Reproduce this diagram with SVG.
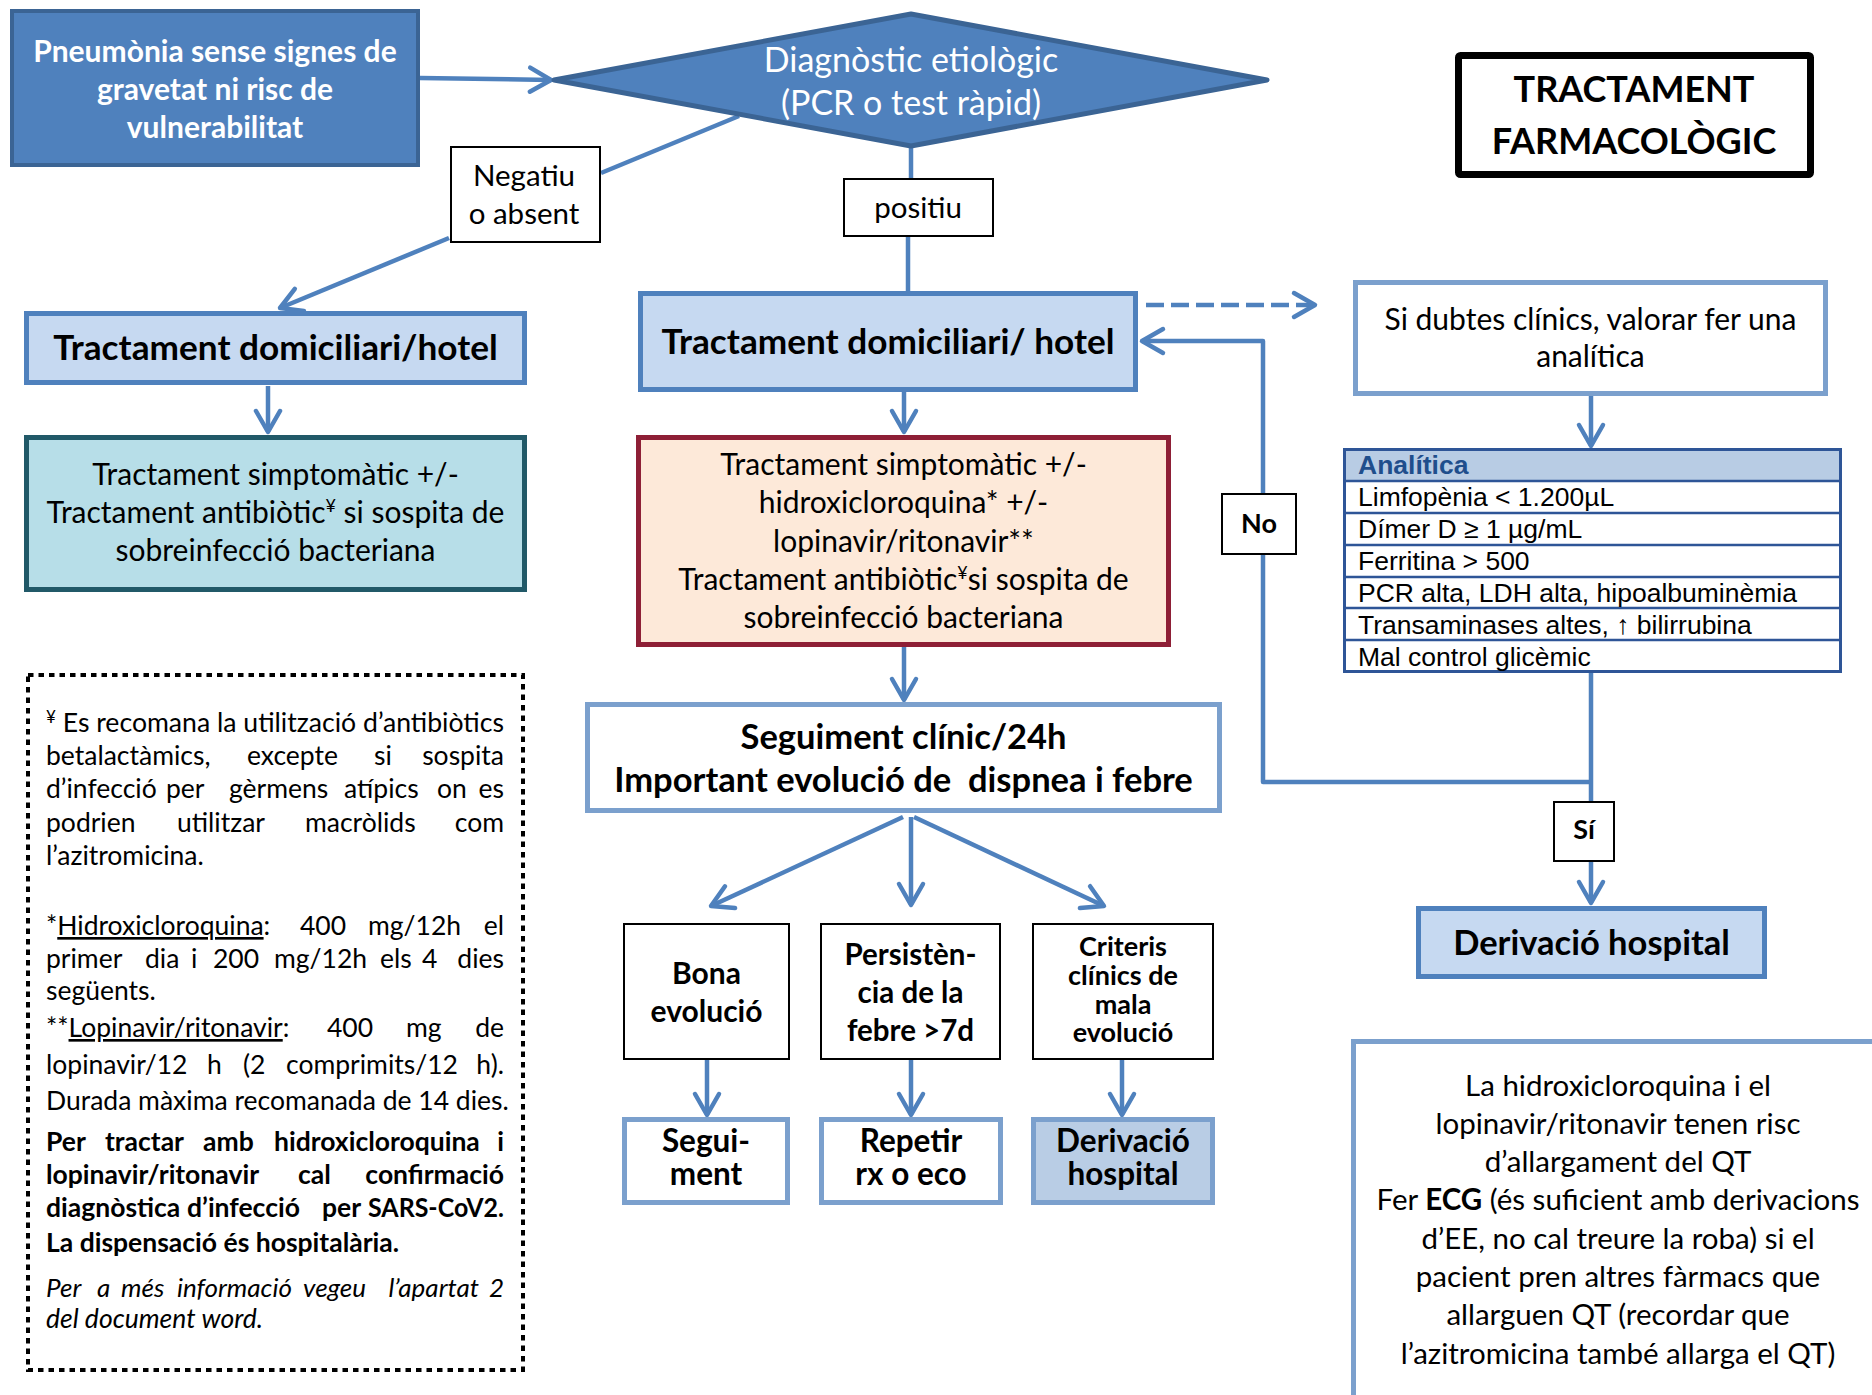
<svg xmlns="http://www.w3.org/2000/svg" width="1872" height="1395" viewBox="0 0 1872 1395">
<style>
text{font-family:Lato,'Liberation Sans',sans-serif;fill:#000}
.b{font-weight:bold}
.c{text-anchor:middle}
.e{text-anchor:end}
.w{fill:#fff}
.i{font-style:italic}
.lab{fill:#fff;stroke:#000;stroke-width:2}
.lb{fill:#C6D9F1;stroke:#4F81BD;stroke-width:5}
.lt{fill:#fff;stroke:#7BA0CD;stroke-width:5}
.con{fill:none;stroke:#4F81BD;stroke-width:4.5;stroke-linejoin:round}
.fn{font-size:26.5px}
.tb{font-family:'Liberation Sans',Arial,sans-serif;font-size:26.5px}
</style>
<defs>
<marker id="ah" markerUnits="userSpaceOnUse" viewBox="-26 -16 30 32" markerWidth="30" markerHeight="32" refX="0" refY="0" orient="auto">
<path d="M-21,-12 L0,0 L-21,12" fill="none" stroke="#4F81BD" stroke-width="4.5" stroke-linecap="round" stroke-linejoin="round"/>
</marker>
</defs>
<rect width="1872" height="1395" fill="#fff"/>

<g id="connectors">
<path class="con" d="M420,78 L551,80" marker-end="url(#ah)"/>
<path class="con" d="M739,116 L601,173"/>
<path class="con" d="M449,238 L280,308" marker-end="url(#ah)"/>
<path class="con" d="M911,146 L911,178"/>
<path class="con" d="M908,237 L908,291"/>
<path class="con" d="M268,386 L268,432" marker-end="url(#ah)"/>
<path class="con" d="M904,392 L904,432" marker-end="url(#ah)"/>
<path class="con" d="M904,647 L904,700" marker-end="url(#ah)"/>
<path class="con" d="M903,817 L711,906" marker-end="url(#ah)"/>
<path class="con" d="M911,817 L911,905" marker-end="url(#ah)"/>
<path class="con" d="M914,817 L1104,906" marker-end="url(#ah)"/>
<path class="con" d="M707,1060 L707,1115" marker-end="url(#ah)"/>
<path class="con" d="M911,1060 L911,1115" marker-end="url(#ah)"/>
<path class="con" d="M1122,1060 L1122,1115" marker-end="url(#ah)"/>
<path class="con" d="M1146,305 L1315,305" stroke-dasharray="18 7" marker-end="url(#ah)"/>
<path class="con" d="M1591,782 L1263,782 L1263,341 L1142,341" marker-end="url(#ah)"/>
<path class="con" d="M1591,396 L1591,446" marker-end="url(#ah)"/>
<path class="con" d="M1591,673 L1591,903" marker-end="url(#ah)"/>
</g>

<g id="n-pneumonia">
<rect x="12" y="11" width="406" height="154" fill="#4F81BD" stroke="#3B6494" stroke-width="4"/>
<text class="b c w" x="215" y="62" font-size="30">Pneumònia sense signes de</text>
<text class="b c w" x="215" y="100" font-size="30">gravetat ni risc de</text>
<text class="b c w" x="215" y="138" font-size="30">vulnerabilitat</text>
</g>

<g id="n-diagnostic">
<polygon points="554,80 911,14 1267,80 911,146" fill="#4F81BD" stroke="#3B6494" stroke-width="5" stroke-linejoin="round"/>
<text class="c w" x="911" y="72" font-size="34">Diagnòstic etiològic</text>
<text class="c w" x="911" y="115" font-size="34">(PCR o test ràpid)</text>
</g>

<g id="l-negatiu">
<rect class="lab" x="451" y="147" width="149" height="95"/>
<text class="c" x="524" y="186" font-size="29.5">Negatiu</text>
<text class="c" x="524" y="224" font-size="29.5">o absent</text>
</g>

<g id="l-positiu">
<rect class="lab" x="844" y="179" width="149" height="57"/>
<text class="c" x="918" y="218" font-size="29.5">positiu</text>
</g>

<g id="n-tractament-farmacologic">
<rect x="1458.5" y="55.5" width="352" height="119" fill="#fff" stroke="#000" stroke-width="7" rx="2"/>
<text class="b c" x="1634" y="102" font-size="36">TRACTAMENT</text>
<text class="b c" x="1634" y="154" font-size="36">FARMACOLÒGIC</text>
</g>

<g id="n-domiciliari-esq">
<rect class="lb" x="26.5" y="313.5" width="498" height="69"/>
<text class="b c" x="275.5" y="360" font-size="35.2">Tractament domiciliari/hotel</text>
</g>

<g id="n-simptomatic-esq">
<rect x="26.5" y="437.5" width="498" height="152" fill="#B7DEE8" stroke="#215968" stroke-width="5"/>
<text class="c" x="275.5" y="485" font-size="30">Tractament simptomàtic +/-</text>
<text class="c" x="275.5" y="523" font-size="30">Tractament antibiòtic<tspan font-size="18" dy="-11">¥</tspan><tspan dy="11"> si sospita de</tspan></text>
<text class="c" x="275.5" y="561" font-size="30">sobreinfecció bacteriana</text>
</g>

<g id="n-domiciliari-centre">
<rect class="lb" x="640.5" y="293.5" width="495" height="96"/>
<text class="b c" x="888" y="354" font-size="35.2">Tractament domiciliari/ hotel</text>
</g>

<g id="n-tractament-centre">
<rect x="638.5" y="437.5" width="530" height="207" fill="#FDE9D9" stroke="#8E1F36" stroke-width="5"/>
<text class="c" x="903.5" y="475" font-size="30">Tractament simptomàtic +/-</text>
<text class="c" x="903.5" y="513" font-size="30">hidroxicloroquina* +/-</text>
<text class="c" x="903.5" y="552" font-size="30">lopinavir/ritonavir**</text>
<text class="c" x="903.5" y="590" font-size="30">Tractament antibiòtic<tspan font-size="18" dy="-11">¥</tspan><tspan dy="11">si sospita de</tspan></text>
<text class="c" x="903.5" y="628" font-size="30">sobreinfecció bacteriana</text>
</g>

<g id="n-seguiment">
<rect class="lt" x="587.5" y="704.5" width="632" height="106"/>
<text class="b c" x="903.5" y="749" font-size="34.5">Seguiment clínic/24h</text>
<text class="b c" x="903.5" y="792" font-size="34.5" xml:space="preserve">Important evolució de  dispnea i febre</text>
</g>

<g id="n-bona">
<rect class="lab" x="624" y="924" width="165" height="135"/>
<text class="b c" x="706.5" y="984" font-size="30">Bona</text>
<text class="b c" x="706.5" y="1022" font-size="30">evolució</text>
</g>

<g id="n-persistencia">
<rect class="lab" x="821" y="924" width="179" height="135"/>
<text class="b c" x="910.5" y="965" font-size="29.5">Persistèn-</text>
<text class="b c" x="910.5" y="1003" font-size="29.5">cia de la</text>
<text class="b c" x="910.5" y="1041" font-size="29.5">febre &gt;7d</text>
</g>

<g id="n-criteris">
<rect class="lab" x="1033" y="924" width="180" height="135"/>
<text class="b c" x="1123" y="956" font-size="27">Criteris</text>
<text class="b c" x="1123" y="985" font-size="27">clínics de</text>
<text class="b c" x="1123" y="1014" font-size="27">mala</text>
<text class="b c" x="1123" y="1042" font-size="27">evolució</text>
</g>

<g id="n-seguiment2">
<rect class="lt" x="624.5" y="1119.5" width="163" height="83"/>
<text class="b c" x="706" y="1152" font-size="31.5">Segui-</text>
<text class="b c" x="706" y="1185" font-size="31.5">ment</text>
</g>

<g id="n-repetir">
<rect class="lt" x="821.5" y="1119.5" width="179" height="83"/>
<text class="b c" x="911" y="1152" font-size="31.5">Repetir</text>
<text class="b c" x="911" y="1185" font-size="31.5">rx o eco</text>
</g>

<g id="n-derivacio-baix">
<rect class="lt" x="1033.5" y="1119.5" width="179" height="83" style="fill:#B9CDE5"/>
<text class="b c" x="1123" y="1152" font-size="31.5">Derivació</text>
<text class="b c" x="1123" y="1185" font-size="31.5">hospital</text>
</g>

<g id="n-dubtes">
<rect class="lt" x="1355.5" y="282.5" width="470" height="111"/>
<text class="c" x="1590.5" y="330" font-size="30">Si dubtes clínics, valorar fer una</text>
<text class="c" x="1590.5" y="367" font-size="30">analítica</text>
</g>

<g id="n-analitica">
<rect x="1343" y="448" width="499" height="33" fill="#B8CCE4"/>
<rect x="1344.5" y="449.5" width="496" height="222" fill="none" stroke="#2E5597" stroke-width="3"/>
<g stroke="#2E5597" stroke-width="2.5">
<line x1="1344" y1="481" x2="1841" y2="481"/>
<line x1="1344" y1="513" x2="1841" y2="513"/>
<line x1="1344" y1="545" x2="1841" y2="545"/>
<line x1="1344" y1="577" x2="1841" y2="577"/>
<line x1="1344" y1="608" x2="1841" y2="608"/>
<line x1="1344" y1="640" x2="1841" y2="640"/>
</g>
<text class="tb" x="1358" y="474" font-weight="bold" style="fill:#1F4E8C">Analítica</text>
<text class="tb" x="1358" y="506">Limfopènia &lt; 1.200µL</text>
<text class="tb" x="1358" y="538">Dímer D ≥ 1 µg/mL</text>
<text class="tb" x="1358" y="570">Ferritina &gt; 500</text>
<text class="tb" x="1358" y="602">PCR alta, LDH alta, hipoalbuminèmia</text>
<text class="tb" x="1358" y="634">Transaminases altes, ↑ bilirrubina</text>
<text class="tb" x="1358" y="666">Mal control glicèmic</text>
</g>

<g id="l-no">
<rect class="lab" x="1222" y="494" width="74" height="60"/>
<text class="b c" x="1259" y="533" font-size="27">No</text>
</g>

<g id="l-si">
<rect class="lab" x="1554" y="802" width="60" height="59"/>
<text class="b c" x="1584" y="839" font-size="27">Sí</text>
</g>

<g id="n-derivacio">
<rect class="lb" x="1418.5" y="908.5" width="346" height="68"/>
<text class="b c" x="1591.5" y="955" font-size="34.5">Derivació hospital</text>
</g>

<g id="n-nota-qt">
<rect class="lt" x="1353.5" y="1041.5" width="600" height="400"/>
<g font-size="29.5">
<text class="c" x="1618" y="1096">La hidroxicloroquina i el</text>
<text class="c" x="1618" y="1134">lopinavir/ritonavir tenen risc</text>
<text class="c" x="1618" y="1172">d’allargament del QT</text>
<text class="c" x="1618" y="1210">Fer <tspan class="b">ECG</tspan> (és suficient amb derivacions</text>
<text class="c" x="1618" y="1249">d’EE, no cal treure la roba) si el</text>
<text class="c" x="1618" y="1287">pacient pren altres fàrmacs que</text>
<text class="c" x="1618" y="1325">allarguen QT (recordar que</text>
<text class="c" x="1618" y="1364">l’azitromicina també allarga el QT)</text>
</g>
</g>

<g id="n-notes">
<rect x="28" y="675" width="495" height="695" fill="none" stroke="#000" stroke-width="4" stroke-dasharray="5.5 5"/>
<text class="fn" x="46" y="732" textLength="458" lengthAdjust="spacingAndGlyphs"><tspan font-size="17" dy="-9">¥</tspan><tspan dy="9"> Es recomana la utilització d’antibiòtics</tspan></text>

<text class="fn" x="46" y="765">betalactàmics,</text>
<text class="fn" x="247" y="765">excepte</text>
<text class="fn" x="374" y="765">si</text>
<text class="fn e" x="504" y="765">sospita</text>

<text class="fn" x="46" y="798">d’infecció</text>
<text class="fn" x="166" y="798">per</text>
<text class="fn" x="229" y="798">gèrmens</text>
<text class="fn" x="344" y="798">atípics</text>
<text class="fn" x="437" y="798">on</text>
<text class="fn e" x="504" y="798">es</text>

<text class="fn" x="46" y="832">podrien</text>
<text class="fn" x="177" y="832">utilitzar</text>
<text class="fn" x="305" y="832">macròlids</text>
<text class="fn e" x="504" y="832">com</text>

<text class="fn" x="46" y="865">l’azitromicina.</text>

<text class="fn" x="46" y="935">*<tspan text-decoration="underline">Hidroxicloroquina</tspan>:</text>
<text class="fn" x="300" y="935">400</text>
<text class="fn" x="368" y="935">mg/12h</text>
<text class="fn e" x="504" y="935">el</text>

<text class="fn" x="46" y="968">primer</text>
<text class="fn" x="145" y="968">dia</text>
<text class="fn" x="191" y="968">i</text>
<text class="fn" x="213" y="968">200</text>
<text class="fn" x="274" y="968">mg/12h</text>
<text class="fn" x="380" y="968">els</text>
<text class="fn" x="422" y="968">4</text>
<text class="fn e" x="504" y="968">dies</text>

<text class="fn" x="46" y="1000">següents.</text>

<text class="fn" x="46" y="1037">**<tspan text-decoration="underline">Lopinavir/ritonavir</tspan>:</text>
<text class="fn" x="327" y="1037">400</text>
<text class="fn" x="406" y="1037">mg</text>
<text class="fn e" x="504" y="1037">de</text>

<text class="fn" x="46" y="1074">lopinavir/12</text>
<text class="fn" x="207" y="1074">h</text>
<text class="fn" x="243" y="1074">(2</text>
<text class="fn" x="286" y="1074">comprimits/12</text>
<text class="fn e" x="504" y="1074">h).</text>

<text class="fn" x="46" y="1110">Durada màxima recomanada de 14 dies.</text>

<text class="fn b" x="46" y="1151">Per</text>
<text class="fn b" x="105" y="1151">tractar</text>
<text class="fn b" x="203" y="1151">amb</text>
<text class="fn b" x="274" y="1151">hidroxicloroquina</text>
<text class="fn b e" x="504" y="1151">i</text>

<text class="fn b" x="46" y="1184">lopinavir/ritonavir</text>
<text class="fn b" x="298" y="1184">cal</text>
<text class="fn b e" x="504" y="1184">confirmació</text>

<text class="fn b" x="46" y="1217">diagnòstica</text>
<text class="fn b" x="187" y="1217">d’infecció</text>
<text class="fn b" x="322" y="1217">per</text>
<text class="fn b" x="368" y="1217" textLength="136" lengthAdjust="spacingAndGlyphs">SARS-CoV2.</text>

<text class="fn b" x="46" y="1252">La dispensació és hospitalària.</text>

<g font-size="26">
<text class="i" x="46" y="1297">Per</text>
<text class="i" x="97" y="1297">a</text>
<text class="i" x="121" y="1297">més</text>
<text class="i" x="177" y="1297">informació</text>
<text class="i" x="303" y="1297">vegeu</text>
<text class="i e" x="479" y="1297">l’apartat</text>
<text class="i e" x="504" y="1297">2</text>
<text class="i" x="46" y="1328" font-size="26.5">del document word.</text>
</g>
</g>
</svg>
